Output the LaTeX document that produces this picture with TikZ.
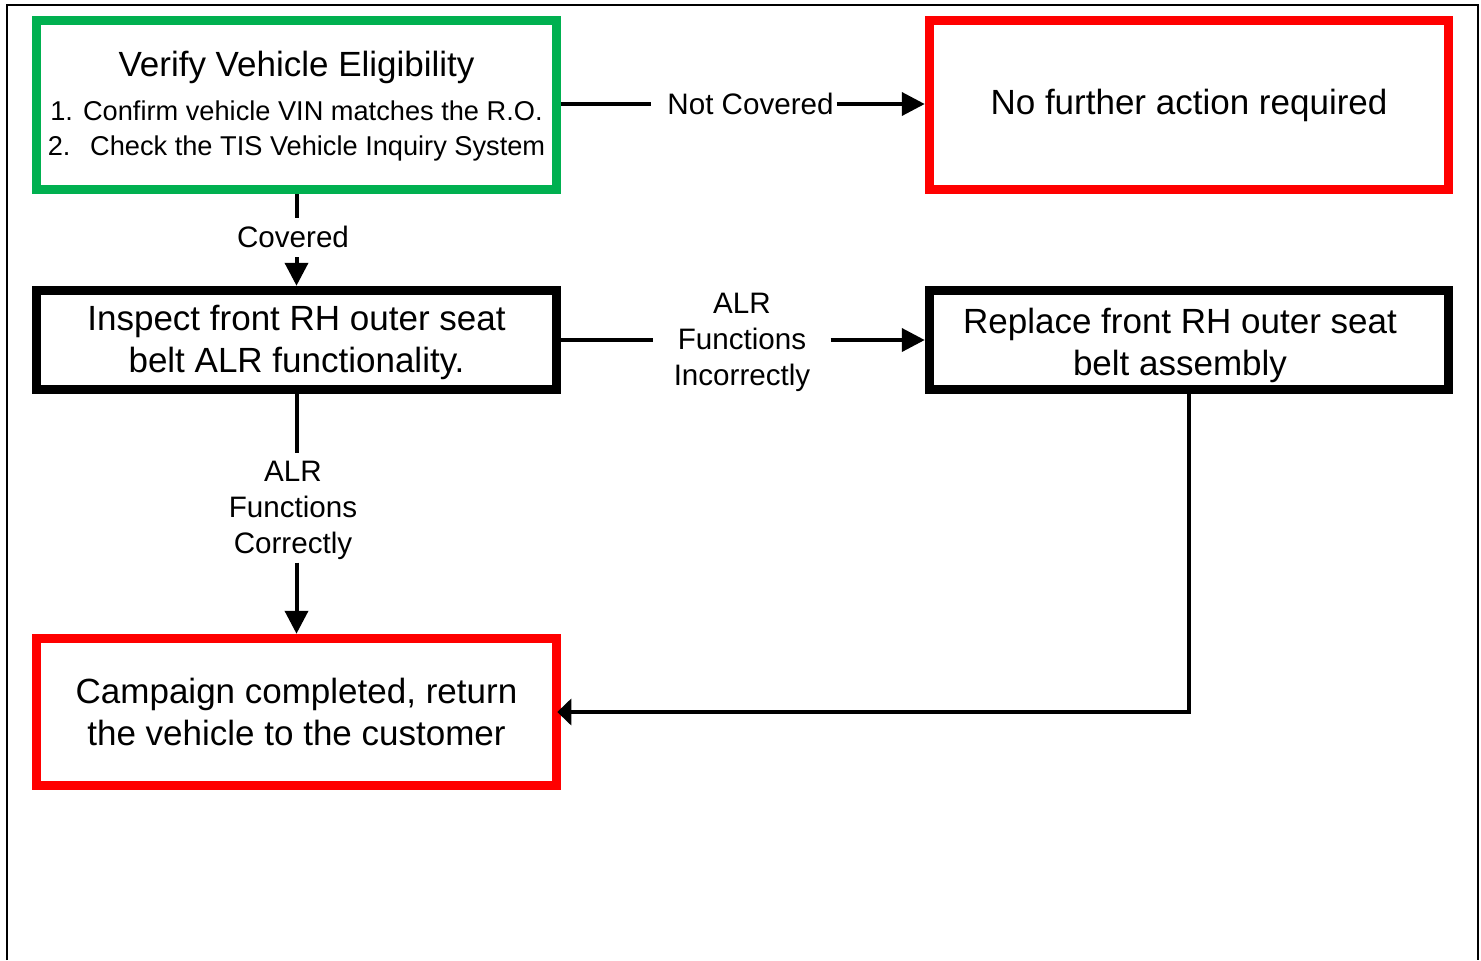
\documentclass[tikz,border=0pt]{standalone}
\usepackage{fontspec}
\setmainfont{Liberation Sans}
\usetikzlibrary{arrows.meta}
\definecolor{vgreen}{RGB}{0,176,80}
\definecolor{vred}{RGB}{255,0,0}
\begin{document}
\begin{tikzpicture}[x=0.5pt,y=-0.5pt,
  box/.style={draw, line width=4.75pt, fill=white, inner sep=0pt, minimum width=260pt, align=center},
  conn/.style={line width=2pt},
  arr/.style={conn, -{Triangle[length=11.5pt,width=11.5pt]}},
  lbl/.style={font=\fontsize{14.8pt}{18pt}\selectfont, align=center, inner sep=0pt},
  big/.style={font=\fontsize{17.5pt}{21pt}\selectfont}]
\useasboundingbox (0,0) rectangle (1481,960);
\draw[line width=1.1pt] (7,960) -- (7,5) -- (1478,5) -- (1478,960);

\node[box, draw=vgreen, minimum height=84.5pt, font=\fontsize{13.6pt}{17.5pt}\selectfont] (verify) at (296.5,105)
  {{\fontsize{17.5pt}{21pt}\selectfont\rule{0pt}{14.3pt}Verify Vehicle Eligibility}\\[4.5pt]1. Confirm vehicle VIN matches the R.O.\\2.\ \ \,Check the TIS Vehicle Inquiry System};
\node[box, draw=vred, minimum width=259.5pt, minimum height=84.5pt, big] (none) at (1189,105) {No further action required};
\node[box, draw=black, minimum height=49.5pt, big] (inspect) at (296.5,340) {\rule{0pt}{14.8pt}Inspect front RH outer seat\\belt ALR functionality.};
\node[box, draw=black, minimum width=259.5pt, minimum height=49.5pt, big] (replace) at (1189,340) {\rule{0pt}{18pt}Replace front RH outer seat\hspace*{9pt}\\belt assembly\hspace*{9pt}};
\node[box, draw=vred, minimum height=73.5pt, big] (campaign) at (296.5,712) {Campaign completed, return\\the vehicle to the customer};

\node[lbl] (nc) at (750.5,104) {Not Covered};
\node[lbl] (cov) at (293,237) {Covered};
\node[lbl] (inc) at (742,342) {ALR\\Functions\\Incorrectly};
\node[lbl] (cor) at (293,510.5) {ALR\\Functions\\Correctly};

\draw[conn] (verify.east |- nc) -- ([xshift=-8pt]nc.west);
\draw[arr] ([xshift=1.5pt]nc.east) -- (none.west |- nc);
\draw[conn] (verify.south) -- ([yshift=4pt]cov.north -| verify.south);
\draw[arr] ([yshift=-4.5pt]cov.south -| verify.south) -- (inspect.north);
\draw[conn] (inspect.east) -- ([xshift=-10pt]inc.west |- inspect.east);
\draw[arr] ([xshift=10pt]inc.east |- replace.west) -- (replace.west);
\draw[conn] (inspect.south) -- ([yshift=4pt]cor.north -| inspect.south);
\draw[arr] ([yshift=-1.25pt]cor.south -| inspect.south) -- (campaign.north);
\draw[conn, -{Triangle[length=7pt,width=13pt]}] (replace.south) |- ([xshift=-2pt]campaign.east);
\end{tikzpicture}
\end{document}
